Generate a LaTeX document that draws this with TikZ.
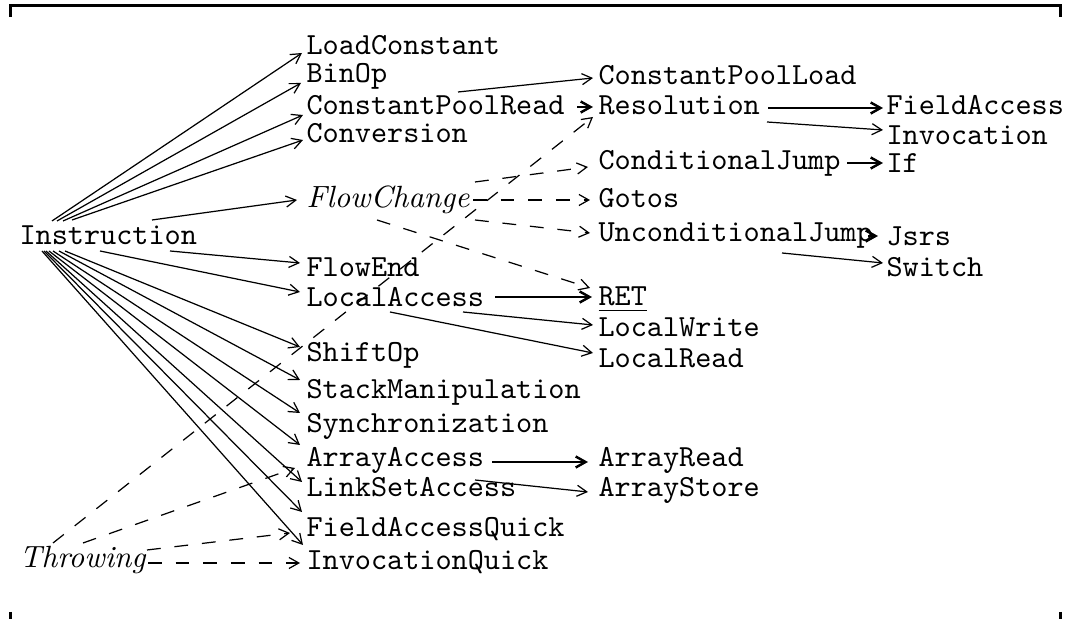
\documentclass[tikz,border=0pt]{standalone}
\usetikzlibrary{arrows.meta,calc}

\begin{document}
\begin{tikzpicture}[
  x=0.3257pt, y=-0.3257pt,
  >={Straight Barb[length=3.2pt,width=3.6pt]},
  lbl/.style={                              % class name: typewriter
    anchor=base west, inner sep=0pt, font=\ttfamily
  },
  abst/.style={                             % abstract class: italic
    anchor=base west, inner sep=0pt, font=\itshape
  },
  edge/.style={->, line width=0.4pt},
  hedge/.style={->, line width=0.8pt},
  dedge/.style={->, line width=0.4pt, dash pattern=on 4.5pt off 4.5pt},
  frame/.style={line width=0.8pt},
]
\useasboundingbox (0,0) rectangle (1068,619);

% ---- Frame ----
\draw[frame] (10.5,17) -- (10.5,5.5) -- (1060.5,5.5) -- (1060.5,17);
\draw[frame] (10.5,612) -- (10.5,619);
\draw[frame] (1060.5,612) -- (1060.5,619);

% ---- Roots ----
\node (instr)    at (19,245)  [lbl]  {Instruction};
\node (throw)    at (19,568)  [abst] {Throwing};

% ---- First level ----
\node (loadc)    at (306,55)  [lbl]  {LoadConstant};
\node (binop)    at (306,83)  [lbl]  {BinOp};
\node (cpread)   at (306,115) [lbl]  {ConstantPoolRead};
\node (conv)     at (306,143) [lbl]  {Conversion};
\node (flowch)   at (306,208) [abst] {FlowChange};
\node (flowend)  at (306,277) [lbl]  {FlowEnd};
\node (localacc) at (306,307) [lbl]  {LocalAccess};
\node (shiftop)  at (306,362) [lbl]  {ShiftOp};
\node (stackman) at (306,399) [lbl]  {StackManipulation};
\node (sync)     at (306,433) [lbl]  {Synchronization};
\node (arracc)   at (306,467) [lbl]  {ArrayAccess};
\node (linkset)  at (306,497) [lbl]  {LinkSetAccess};
\node (faq)      at (306,537) [lbl]  {FieldAccessQuick};
\node (invq)     at (306,570) [lbl]  {InvocationQuick};

% ---- Second level ----
\node (cpload)   at (598,85)  [lbl]  {ConstantPoolLoad};
\node (resol)    at (598,115) [lbl]  {Resolution};
\node (condj)    at (598,170) [lbl]  {ConditionalJump};
\node (gotos)    at (598,208) [lbl]  {Gotos};
\node (uncondj)  at (598,242) [lbl]  {UnconditionalJump};
\node (ret)      at (598,306) [lbl]  {\underline{RET}};
\node (lwrite)   at (598,337) [lbl]  {LocalWrite};
\node (lread)    at (598,368) [lbl]  {LocalRead};
\node (arrread)  at (598,467) [lbl]  {ArrayRead};
\node (arrstore) at (598,497) [lbl]  {ArrayStore};

% ---- Third level ----
\node (fieldacc) at (886,115) [lbl]  {FieldAccess};
\node (invoc)    at (886,145) [lbl]  {Invocation};
\node (ifn)      at (886,173) [lbl]  {If};
\node (jsrs)     at (886,246) [lbl]  {Jsrs};
\node (switch)   at (886,277) [lbl]  {Switch};

% ---- Edges (offsets from base west, in px) ----
\foreach \s/\sx/\sy/\t/\tx/\ty in {
    instr/33/-24/loadc/-4/-2,     instr/38/-24/binop/-5/0,
    instr/44/-24/cpread/-3/0,     instr/53/-25/conv/-3/-3,
    instr/133/-25/flowch/-9/-8,   instr/151/6/flowend/-6/-14,
    instr/81/6/localacc/-6/-15,   instr/46/6/shiftop/-6/-15,
    instr/40/6/stackman/-6/-19,   instr/34/6/sync/-6/-20,
    instr/30/6/arracc/-6/-22,     instr/27/6/linkset/-4/-15,
    instr/25/6/faq/-4/-25,        instr/23/6/invq/-3/-25,
    cpread/152/-23/cpload/-5/-7,  resol/169/7/invoc/-3/-15,
    uncondj/184/11/switch/-3/-14, localacc/157/5/lwrite/-5/-12,
    localacc/84/5/lread/-5/-15,   arracc/169/13/arrstore/-10/-5}
  \draw[edge] ($(\s.base west)+(\sx,\sy)$) -- ($(\t.base west)+(\tx,\ty)$);

\foreach \s/\sx/\sy/\t/\tx/\ty in {
    cpread/271/-8/resol/-5/-8,    resol/170/-7/fieldacc/-3/-7,
    condj/249/-7/ifn/-3/-10,      uncondj/270/-6/jsrs/-8/-10,
    localacc/189/-10/ret/-6/-9,   arracc/186/-5/arrread/-10/-5}
  \draw[hedge] ($(\s.base west)+(\sx,\sy)$) -- ($(\t.base west)+(\tx,\ty)$);

\foreach \s/\sx/\sy/\t/\tx/\ty in {
    throw/34/-25/resol/-5/2,      throw/64/-25/arracc/-11/1,
    throw/128/-18/faq/-16/-4,     throw/129/-5/invq/-6/-7,
    flowch/169/-26/condj/-10/-3,  flowch/167/-8/gotos/-8/-8,
    flowch/169/12/uncondj/-8/-9,  flowch/71/12/ret/-8/-18}
  \draw[dedge] ($(\s.base west)+(\sx,\sy)$) -- ($(\t.base west)+(\tx,\ty)$);

\end{tikzpicture}
\end{document}
